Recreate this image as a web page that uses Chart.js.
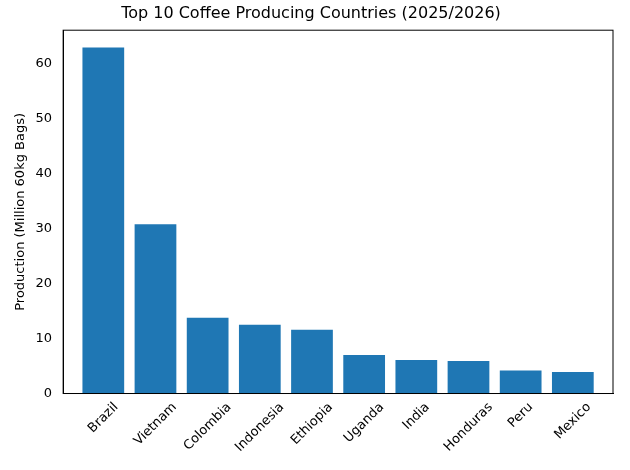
<!DOCTYPE html>
<html><head><script src="https://cdn.jsdelivr.net/npm/chart.js"></script>
<style>body{margin:0;background:#fff}#w{width:630px;height:470px}</style></head>
<body><div id="w"><canvas id="c"></canvas></div>
<script>
const categories=["Brazil","Vietnam","Colombia","Indonesia","Ethiopia","Uganda","India","Honduras","Peru","Mexico"];
const production=[63.0,30.8,13.8,12.5,11.6,7.0,6.1,5.9,4.2,3.9];
const yTicks=[0,10,20,30,40,50,60];
const font={family:"DejaVu Sans",size:13};
const box={id:'box',afterDraw(c){const a=c.chartArea,x=c.ctx;x.save();x.strokeStyle='#000';x.lineWidth=1;x.strokeRect(a.left,a.top,a.right-a.left,a.bottom-a.top);
 x.font='13px "DejaVu Sans"';x.fillStyle='#000';x.textAlign='center';x.textBaseline='middle';
 const s=c.scales.x,h=13,k=Math.SQRT1_2;
 categories.forEach((t,i)=>{const w=x.measureText(t).width;const bh=(w+h)*k;const px=s.getPixelForValue(i);const py=a.bottom+7+bh/2;
  x.save();x.translate(px,py);x.rotate(-Math.PI/4);x.fillText(t,0,0);x.restore();});
 x.restore();}};
new Chart(document.getElementById('c'),{type:'bar',
data:{datasets:[{data:production.map((v,i)=>({x:i,y:v})),backgroundColor:'#1f77b4',categoryPercentage:0.8,barPercentage:1}]},
options:{responsive:true,maintainAspectRatio:false,animation:false,
layout:{padding:{left:9,right:17,top:0,bottom:7}},
plugins:{legend:{display:false},tooltip:{enabled:false},
title:{display:true,text:'Top 10 Coffee Producing Countries (2025/2026)',color:'#000',font:{family:"DejaVu Sans",size:16,weight:'normal'},padding:{top:4,bottom:7}}},
scales:{
x:{type:'linear',offset:false,min:-0.77,max:9.77,grid:{display:false,drawTicks:true},border:{color:'#000'},
afterBuildTicks(s){s.ticks=categories.map((_,i)=>({value:i}));},
ticks:{autoSkip:false,maxRotation:45,minRotation:45,color:'rgba(0,0,0,0)',font,callback:(v)=>categories[v]}},
y:{min:0,max:66.15,grid:{display:false},border:{color:'#000'},
afterBuildTicks(s){s.ticks=yTicks.map(v=>({value:v}));},
ticks:{color:'#000',font},
title:{display:true,text:'Production (Million 60kg Bags)',color:'#000',font}}}},
plugins:[box]});
</script></body></html>
